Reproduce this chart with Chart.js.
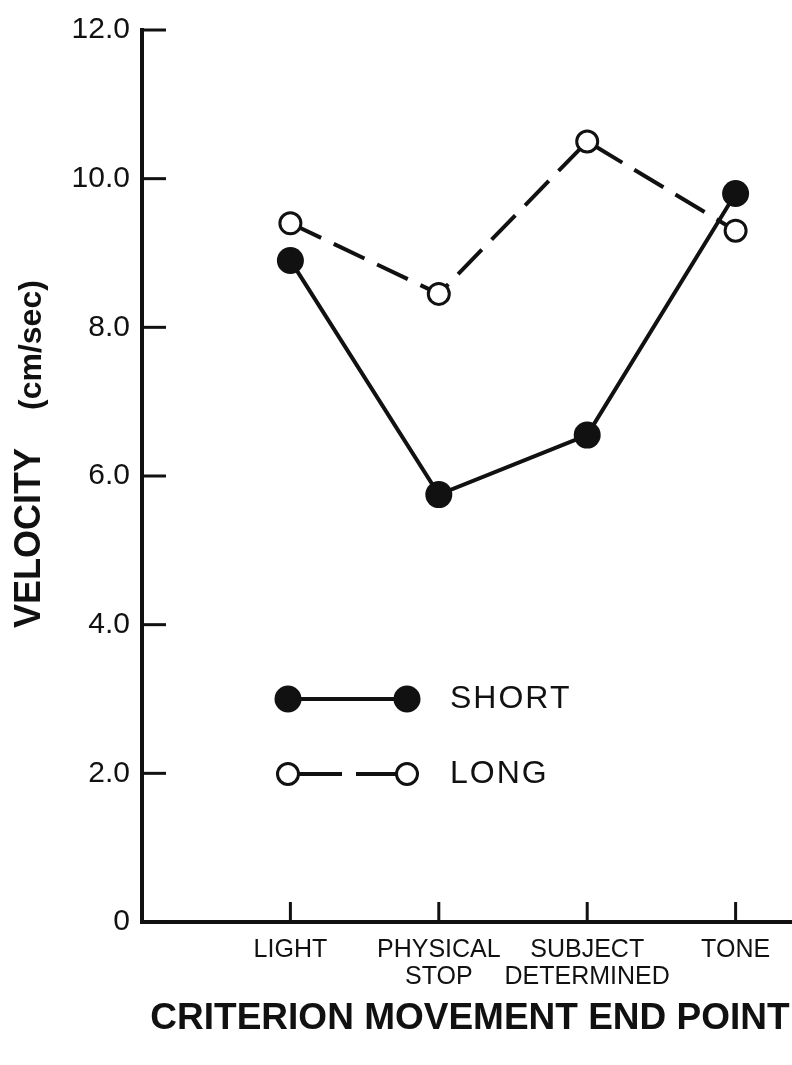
<!DOCTYPE html>
<html>
<head>
<meta charset="utf-8">
<script src="https://cdn.jsdelivr.net/npm/chart.js@4/dist/chart.umd.min.js"></script>
<style>
  html, body { margin: 0; padding: 0; background: #fff; overflow: hidden; }
  canvas { display: block; }
</style>
</head>
<body>
<canvas id="velChart" width="792" height="1065"></canvas>
<script>
// ===== Data =====
const categories = ['LIGHT', ['PHYSICAL', 'STOP'], ['SUBJECT', 'DETERMINED'], 'TONE'];
const shortVel = [8.9, 5.75, 6.55, 9.8];
const longVel = [9.4, 8.45, 10.5, 9.3];
const yTicks = [0, 2, 4, 6, 8, 10, 12];
const seriesNames = ['SHORT', 'LONG'];

const INK = '#111';
const FONT = '"Liberation Sans", Arial, sans-serif';

function toPoints(arr) {
    return arr.map((v, i) => ({ x: i + 1, y: v }));
}

// inner tick marks, axis titles and the hand-made key
const extras = {
    id: 'extras',
    beforeDatasetsDraw(chart) {
        const ctx = chart.ctx;
        const a = chart.chartArea;
        const xs = chart.scales.x, ys = chart.scales.y;
        ctx.save();
        ctx.strokeStyle = INK;
        ctx.lineWidth = 3;
        ys.ticks.forEach(t => {
            const y = ys.getPixelForValue(t.value);
            ctx.beginPath();
            ctx.moveTo(a.left, y);
            ctx.lineTo(a.left + 24, y);
            ctx.stroke();
        });
        xs.ticks.forEach(t => {
            const x = xs.getPixelForValue(t.value);
            ctx.beginPath();
            ctx.moveTo(x, a.bottom);
            ctx.lineTo(x, a.bottom - 20);
            ctx.stroke();
        });
        ctx.restore();
    },
    afterDraw(chart) {
        const ctx = chart.ctx;
        const a = chart.chartArea;
        ctx.save();
        ctx.fillStyle = INK;
        ctx.strokeStyle = INK;

        // y title
        ctx.save();
        ctx.translate(30, 628);
        ctx.rotate(-Math.PI / 2);
        ctx.textAlign = 'left';
        ctx.textBaseline = 'middle';
        ctx.font = 'bold 36px ' + FONT;
        ctx.fillText('VELOCITY', 0, 0);
        ctx.font = 'bold 32px ' + FONT;
        ctx.fillText('(cm/sec)', 218, 2);
        ctx.restore();

        // x title
        ctx.font = 'bold 37px ' + FONT;
        ctx.textAlign = 'center';
        ctx.textBaseline = 'middle';
        ctx.fillText('CRITERION MOVEMENT END POINT', 470, 1019);

        // key
        const x1 = a.left + 146, x2 = a.left + 265, tx = a.left + 308;
        const rowS = 699, rowL = 774;
        ctx.lineWidth = 4;
        ctx.beginPath();
        ctx.moveTo(x1, rowS);
        ctx.lineTo(x2, rowS);
        ctx.stroke();
        [x1, x2].forEach(x => {
            ctx.beginPath();
            ctx.arc(x, rowS, 13.5, 0, Math.PI * 2);
            ctx.fill();
        });
        ctx.beginPath();
        ctx.moveTo(x1 + 10, rowL);
        ctx.lineTo(x1 + 54, rowL);
        ctx.moveTo(x1 + 68, rowL);
        ctx.lineTo(x2 - 10, rowL);
        ctx.stroke();
        ctx.lineWidth = 3;
        [x1, x2].forEach(x => {
            ctx.beginPath();
            ctx.arc(x, rowL, 10.5, 0, Math.PI * 2);
            ctx.fillStyle = '#fff';
            ctx.fill();
            ctx.stroke();
        });
        ctx.fillStyle = INK;
        ctx.font = '32px ' + FONT;
        ctx.textAlign = 'left';
        ctx.letterSpacing = '2px';
        ctx.fillText(seriesNames[0], tx, rowS);
        ctx.fillText(seriesNames[1], tx, rowL);
        ctx.restore();
    }
};

const ctx = document.getElementById('velChart').getContext('2d');
new Chart(ctx, {
    type: 'line',
    data: {
        datasets: [{
            label: seriesNames[0],
            data: toPoints(shortVel),
            borderColor: INK,
            borderWidth: 4,
            pointStyle: 'circle',
            pointRadius: 13.5,
            pointBackgroundColor: INK,
            pointBorderWidth: 0,
            tension: 0
        }, {
            label: seriesNames[1],
            data: toPoints(longVel),
            borderColor: INK,
            borderWidth: 4,
            borderDash: [34, 14],
            pointStyle: 'circle',
            pointRadius: 10.5,
            pointBackgroundColor: '#fff',
            pointBorderColor: INK,
            pointBorderWidth: 3,
            tension: 0
        }]
    },
    options: {
        responsive: false,
        animation: false,
        layout: {
            autoPadding: false,
            padding: { top: 24, right: 0, left: 0, bottom: 0 }
        },
        plugins: {
            legend: { display: false },
            tooltip: { enabled: false }
        },
        scales: {
            x: {
                type: 'linear',
                min: 0,
                max: 4.38,
                afterBuildTicks(axis) {
                    axis.ticks = categories.map((c, i) => ({ value: i + 1 }));
                },
                afterFit(axis) { axis.height = 143; },
                ticks: {
                    autoSkip: false,
                    maxRotation: 0,
                    padding: 14,
                    color: INK,
                    font: { family: FONT, size: 25, lineHeight: 1.1 },
                    callback: v => categories[v - 1]
                },
                grid: { display: false, drawTicks: false },
                border: { display: true, color: INK, width: 4 }
            },
            y: {
                type: 'linear',
                min: 0,
                max: 12,
                afterBuildTicks(axis) {
                    axis.ticks = yTicks.map(v => ({ value: v }));
                },
                afterFit(axis) { axis.width = 142; },
                ticks: {
                    padding: 12,
                    color: INK,
                    font: { family: FONT, size: 30 },
                    callback: v => v === 0 ? '0' : v.toFixed(1)
                },
                grid: { display: false, drawTicks: false },
                border: { display: true, color: INK, width: 4 }
            }
        }
    },
    plugins: [extras]
});
</script>
</body>
</html>
